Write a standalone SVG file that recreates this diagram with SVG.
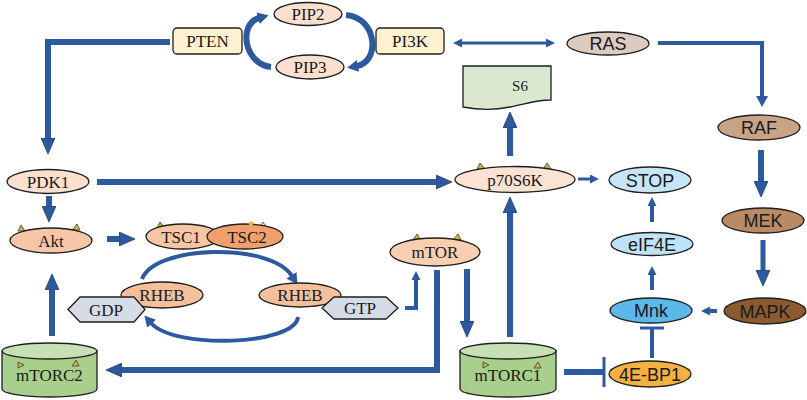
<svg xmlns="http://www.w3.org/2000/svg" width="807" height="400" viewBox="0 0 807 400">
<defs>
<style>
.n{stroke:#1e1e1e;stroke-width:1.3}
.s{font-family:"Liberation Serif","Times New Roman",serif;font-size:17px;fill:#1a1a1a;text-anchor:middle}
.a{font-family:"Liberation Sans",Arial,sans-serif;font-size:18px;fill:#1a1a1a;text-anchor:middle}
.c{fill:none;stroke:#2d5a9e;stroke-linejoin:miter}
.w6{stroke-width:6}
.w5{stroke-width:5}
.w4{stroke-width:4}
.w3{stroke-width:3}
.tri{fill:#cdb63c;stroke:#3a3a3a;stroke-width:0.8}
</style>
<marker id="ah" markerUnits="userSpaceOnUse" markerWidth="16" markerHeight="14" viewBox="0 0 16 14" refX="1" refY="7" orient="auto"><path d="M0,0 L16,7 L0,14 Z" fill="#2d5a9e" stroke="#1f3b6e" stroke-width="0.8"/></marker>
<marker id="am" markerUnits="userSpaceOnUse" markerWidth="11" markerHeight="12" viewBox="0 0 11 12" refX="1" refY="6" orient="auto-start-reverse"><path d="M0,0 L11,6 L0,12 Z" fill="#2d5a9e"/></marker>
<marker id="at" markerUnits="userSpaceOnUse" markerWidth="9" markerHeight="9" viewBox="0 0 9 9" refX="1" refY="4.5" orient="auto-start-reverse"><path d="M0,0 L9,4.5 L0,9 Z" fill="#2d5a9e"/></marker>
</defs>
<rect width="807" height="400" fill="#ffffff"/>

<g id="connectors">
<path class="c w6" d="M170,42 H48 V139" marker-end="url(#ah)"/>
<path class="c w6" d="M97,182 H437" marker-end="url(#ah)"/>
<path class="c w6" d="M49,196 V207" marker-end="url(#ah)"/>
<path class="c w6" d="M107,239 H120" marker-end="url(#ah)"/>
<path class="c w6" d="M52,336 V289" marker-end="url(#ah)"/>
<path class="c w6" d="M437,270 V370 H121" marker-end="url(#ah)"/>
<path class="c w6" d="M467,269 V322" marker-end="url(#ah)"/>
<path class="c w6" d="M510,337 V212" marker-end="url(#ah)"/>
<path class="c w6" d="M510,156 V127" marker-end="url(#ah)"/>
<path class="c w3" d="M578,179 H591" marker-end="url(#at)"/>
<path class="c w4" d="M652,222 V205" marker-end="url(#at)"/>
<path class="c w4" d="M652,290 V274" marker-end="url(#at)"/>
<path class="c w4" d="M717,311 H709" marker-end="url(#at)"/>
<path class="c w4" d="M405,308 H416 V279" marker-end="url(#at)"/>
<path class="c w3" d="M461,43 H547" marker-start="url(#at)" marker-end="url(#at)"/>
<path class="c w4" d="M658,43 H762 V97" marker-end="url(#am)"/>
<path class="c w6" d="M761,150 V182" marker-end="url(#ah)"/>
<path class="c w5" d="M763,240 V271" marker-end="url(#ah)"/>
<path class="c w6" d="M564,372 H603"/>
<path class="c w3" d="M604,357 V387"/>
<path class="c w4" d="M652,358 V329"/>
<path class="c w3" d="M640,328 H664"/>
<path class="c w6" d="M271,67 C244,64 238,24 259,18" marker-end="url(#am)"/>
<path class="c w6" d="M346,15 C378,18 380,62 357,66" marker-end="url(#am)"/>
<path class="c w4" d="M142,279 C155,245 270,242 292,276" marker-end="url(#am)"/>
<path class="c w4" d="M298,317 C295,345 175,350 151,323" marker-end="url(#am)"/>
</g>

<g id="PTEN"><rect class="n" x="173" y="28" width="69" height="26" rx="4" fill="#fdf1cf"/><text class="s" x="207.5" y="47">PTEN</text></g>
<g id="PIP2"><ellipse class="n" cx="308" cy="14" rx="34" ry="11.5" fill="#fbe0cf"/><text class="s" x="308" y="20">PIP2</text></g>
<g id="PIP3"><ellipse class="n" cx="310" cy="67" rx="34" ry="12" fill="#fbe0cf"/><text class="s" x="310" y="73">PIP3</text></g>
<g id="PI3K"><rect class="n" x="376" y="28" width="68" height="26" rx="4" fill="#fdf1cf"/><text class="s" x="410" y="47">PI3K</text></g>
<g id="RAS"><ellipse class="n" cx="608" cy="43.5" rx="41" ry="11.5" fill="#dccbc0"/><text class="a" x="608" y="50">RAS</text></g>
<g id="S6"><path class="n" d="M463,66 H551 V100 C535,100 525,104 510,107 C492,111 478,110 463,107 Z" fill="#d9e8cf" stroke-width="1"/><text class="s" x="520" y="91" style="font-size:15px">S6</text></g>
<g id="RAF"><ellipse class="n" cx="759" cy="127.5" rx="41" ry="12.5" fill="#c9a386"/><text class="a" x="759" y="134">RAF</text></g>
<g id="PDK1"><ellipse class="n" cx="48" cy="181.5" rx="41" ry="12" fill="#fbe0cf"/><text class="s" x="48" y="187.5">PDK1</text></g>
<g id="p70S6K"><path class="tri" d="M477,169 L480,163 L485,169 Z"/><path class="tri" d="M543,169 L547,163 L551,169 Z"/><ellipse class="n" cx="515" cy="179.5" rx="60" ry="13" fill="#fbe3d3"/><text class="s" x="515" y="185.5">p70S6K</text></g>
<g id="STOP"><ellipse class="n" cx="650" cy="180" rx="41" ry="13" fill="#c6e6f7"/><text class="a" x="650" y="186.5">STOP</text></g>
<g id="MEK"><ellipse class="n" cx="763" cy="220.5" rx="41" ry="12.5" fill="#b98a64"/><text class="a" x="763" y="227">MEK</text></g>
<g id="Akt"><path class="tri" d="M18,231 L21,225 L25,231 Z"/><path class="tri" d="M72,230 L77,224 L80,230 Z"/><ellipse class="n" cx="51" cy="240.5" rx="41" ry="12.5" fill="#f6c7a6"/><text class="s" x="51" y="246.5">Akt</text></g>
<g id="TSC1"><path class="tri" d="M157,228 L160,222 L165,228 Z"/><ellipse class="n" cx="183" cy="236.5" rx="37" ry="12.5" fill="#f6c6a4"/><text class="s" x="181" y="242.5">TSC1</text></g>
<g id="TSC2"><path d="M259,228 L263,222 L267,228 Z" fill="#e8f0f8" stroke="#3a3a3a" stroke-width="0.8"/><ellipse class="n" cx="245" cy="236.5" rx="38" ry="12.5" fill="#f09f6e"/><circle cx="251" cy="223.5" r="2.3" fill="#f2b630"/><text class="s" x="247" y="242.5">TSC2</text></g>
<g id="eIF4E"><ellipse class="n" cx="652" cy="244" rx="41" ry="11.5" fill="#bfe3f6"/><text class="a" x="652" y="250.5">eIF4E</text></g>
<g id="mTOR"><path class="tri" d="M413,240 L417,234 L421,240 Z"/><path class="tri" d="M453,240 L458,234 L461,240 Z"/><ellipse class="n" cx="435" cy="252" rx="45" ry="14" fill="#f8cfb0"/><text class="s" x="435" y="258">mTOR</text></g>
<g id="RHEB1"><ellipse class="n" cx="162" cy="295" rx="41" ry="13" fill="#f4c09c"/><text class="s" x="162" y="301">RHEB</text></g>
<g id="GDP"><path class="n" d="M68,309.5 L80,297 L134,297 L145,309.5 L134,322 L80,322 Z" fill="#d5dce6"/><text class="s" x="106" y="315.5">GDP</text></g>
<g id="RHEB2"><ellipse class="n" cx="300" cy="295" rx="41" ry="12" fill="#f4c09c"/><text class="s" x="300" y="301">RHEB</text></g>
<g id="GTP"><path class="n" d="M322,308 L334,297 L386,297 L398,308 L386,319 L334,319 Z" fill="#d5dce6"/><text class="s" x="360" y="314">GTP</text></g>
<g id="Mnk"><ellipse class="n" cx="651" cy="310.5" rx="41" ry="12.5" fill="#5db8ea"/><text class="a" x="651" y="317">Mnk</text></g>
<g id="MAPK"><ellipse class="n" cx="765" cy="311" rx="41" ry="13" fill="#8b5a30"/><text class="a" x="765" y="317.5">MAPK</text></g>
<g id="mTORC2"><path class="n" d="M2,351 V389 A47.5,8 0 0 0 97,389 V351 Z" fill="#a8cf8c"/><ellipse class="n" cx="49.5" cy="351" rx="47.5" ry="8" fill="#c7e1b5"/><text class="s" x="49.5" y="381">mTORC2</text><path class="tri" d="M18,362 L24,365 L18,368 Z"/><path class="tri" d="M72,366 L76,360 L79,366 Z"/></g>
<g id="mTORC1"><path class="n" d="M460,351 V389 A48,8 0 0 0 556,389 V351 Z" fill="#a8cf8c"/><ellipse class="n" cx="508" cy="351" rx="48" ry="8" fill="#c7e1b5"/><text class="s" x="508" y="381">mTORC1</text><path class="tri" d="M483,362 L489,365 L483,368 Z"/><path class="tri" d="M534,368 L538,362 L541,368 Z"/></g>
<g id="4E-BP1"><ellipse class="n" cx="650" cy="374" rx="41" ry="13" fill="#f4b142"/><text class="a" x="650" y="380.5">4E-BP1</text></g>
</svg>
